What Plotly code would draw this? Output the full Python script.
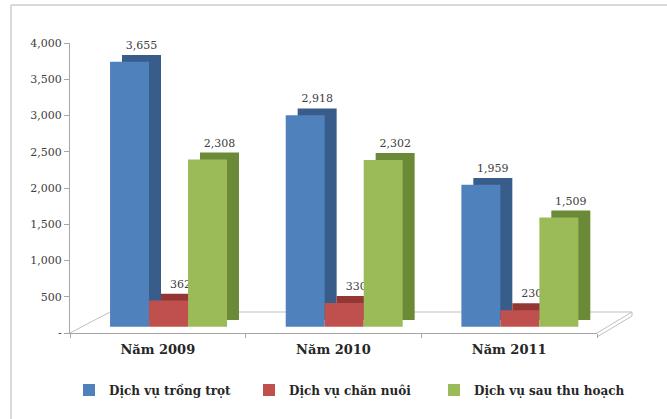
import plotly.graph_objects as go

categories = ["Năm 2009", "Năm 2010", "Năm 2011"]
series_names = ["Dịch vụ trồng trọt", "Dịch vụ chăn nuôi", "Dịch vụ sau thu hoạch"]
trong_trot = [3655, 2918, 1959]
chan_nuoi = [362, 330, 230]
sau_thu_hoach = [2308, 2302, 1509]
y_tickvals = [0, 500, 1000, 1500, 2000, 2500, 3000, 3500, 4000]
y_ticktext = ["-", "500", "1,000", "1,500", "2,000", "2,500", "3,000", "3,500", "4,000"]

series_values = [trong_trot, chan_nuoi, sau_thu_hoach]
front_colors = ["#4F81BD", "#C0504D", "#9BBB59"]
side_colors = ["#385D8A", "#943634", "#6B8A38"]
offsets = [-0.272, -0.050, 0.172]
bar_w = 0.222
dx = 0.068      # 3D depth, horizontal (category units)
base0 = 85      # front face lifted above floor
dy = 95         # 3D depth, vertical (data units)

W, H = 667, 419
L, R, T, B = 70, 70, 43, 86
serif = "DejaVu Serif, Liberation Serif, serif"
legend_ids = ["legend", "legend2", "legend3"]
legend_x = [69, 249, 434]

fig = go.Figure()
for vals, name, sc, off in zip(series_values, series_names, side_colors, offsets):
    fig.add_trace(go.Bar(
        x=categories, y=vals, base=[base0 + dy] * len(vals),
        offset=off + dx, width=bar_w, marker=dict(color=sc, line=dict(width=0)),
        text=[f"{v:,}" for v in vals], textposition="outside",
        textfont=dict(family=serif, size=11, color="#404040"),
        cliponaxis=False, showlegend=False, hoverinfo="skip",
    ))
for vals, name, fc, off, lid in zip(series_values, series_names, front_colors, offsets, legend_ids):
    fig.add_trace(go.Bar(
        x=categories, y=vals, base=[base0] * len(vals),
        offset=off, width=bar_w, name=name, legend=lid,
        marker=dict(color=fc, line=dict(width=0)),
    ))

pw, ph = W - L - R, H - T - B
def px(xp):
    return (xp - L) / pw
def py(yp):
    return (H - B - yp) / ph

floor_col = "#BFBFBF"
def ln(x0, y0, x1, y1, col=floor_col, w=1):
    return dict(type="line", xref="paper", yref="paper", layer="below",
                x0=px(x0), y0=py(y0), x1=px(x1), y1=py(y1), line=dict(color=col, width=w))

shapes = [
    ln(70, 333, 110, 312),
    ln(110, 312, 632, 312),
    ln(597, 333, 632, 312),
    ln(632, 312, 632, 316),
    ln(597, 337, 632, 316),
    ln(11, 5, 667, 5, "#D9D9D9", 2),
    ln(11, 5, 11, 419, "#D9D9D9", 2),
]

def legend_cfg(xp):
    return dict(
        orientation="h", x=xp / W, xref="container", xanchor="left",
        y=1 - 390 / H, yref="container", yanchor="middle",
        font=dict(family=serif, size=12, color="#262626", weight="bold"),
        itemwidth=30, bgcolor="rgba(0,0,0,0)",
    )

fig.update_layout(
    width=W, height=H,
    margin=dict(l=L, r=R, t=T, b=B, pad=0, autoexpand=False),
    paper_bgcolor="white", plot_bgcolor="white",
    barmode="overlay",
    shapes=shapes,
    xaxis=dict(
        type="category", showgrid=False, showline=True, linecolor="#A6A6A6", linewidth=1,
        ticks="outside", tickson="boundaries", ticklen=4, tickcolor="#A6A6A6",
        ticklabelstandoff=4,
        tickfont=dict(family=serif, size=13, color="#262626", weight="bold"),
        range=[-0.5, 2.5],
    ),
    yaxis=dict(
        range=[0, 4000], tickvals=y_tickvals, ticktext=y_ticktext,
        showgrid=False, zeroline=False, showline=True, linecolor="#A6A6A6", linewidth=1,
        ticks="outside", ticklen=5, tickcolor="#A6A6A6",
        tickfont=dict(family=serif, size=11, color="#404040"),
    ),
    legend=legend_cfg(legend_x[0]),
    legend2=legend_cfg(legend_x[1]),
    legend3=legend_cfg(legend_x[2]),
    showlegend=True,
)

fig.write_html("out.html")
